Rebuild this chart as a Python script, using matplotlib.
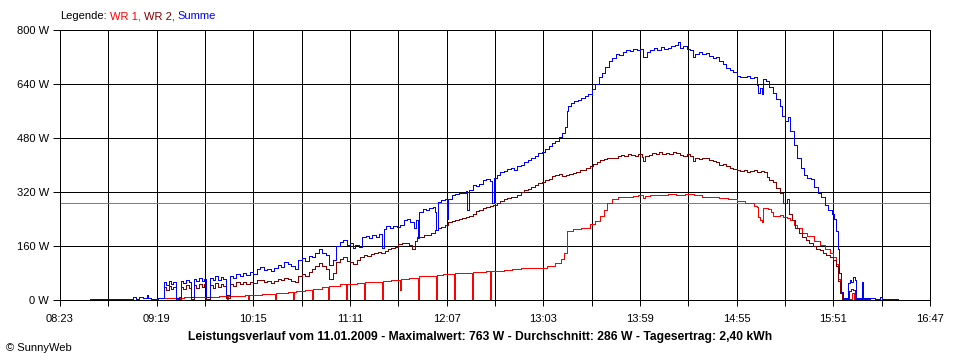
import matplotlib
matplotlib.use("Agg")
import matplotlib.pyplot as plt

plt.rcParams['font.family'] = ['Liberation Sans', 'DejaVu Sans']
plt.rcParams['font.size'] = 8

# axis labels / summary
tick_labels = ["08:23", "09:19", "10:15", "11:11", "12:07", "13:03", "13:59", "14:55", "15:51", "16:47"]
y_ticks = [0, 160, 320, 480, 640, 800]
avg_w = 286
title = "Leistungsverlauf vom 11.01.2009 - Maximalwert: 763 W - Durchschnitt: 286 W - Tagesertrag: 2,40 kWh"
legend_parts = ["Legende:", "WR 1,", "WR 2,", "Summe"]
legend_colors = ["black", "#ff0000", "#800000", "#0000ff"]

# Summe (minutes since midnight, watts)
summe_t = [520.4, 530, 540, 545, 547, 549, 551, 553.4, 554, 556,
           560, 563.2, 564.5, 566, 567.5, 568.5, 570, 572, 573.1, 574.5,
           576, 577.5, 579, 580.6, 582, 583.5, 585, 586.5, 587.5, 589.9,
           591.5, 593, 594.5, 596, 597.5, 599.2, 601.5, 603, 605, 607,
           609, 611, 613, 615, 617, 619, 621, 623, 625, 627,
           629, 631, 633, 635, 637, 639, 641, 643, 645, 647,
           649, 651, 653, 655, 657, 659, 661, 663, 665, 667,
           669, 671, 672.5, 674, 676, 678, 680, 682, 684, 686,
           688, 689.5, 690.5, 692, 694, 696, 698, 700, 702, 704,
           706, 708, 709.5, 710.3, 711, 713, 715, 717, 719, 720.5,
           721, 722, 724, 726, 727, 728, 730, 732, 734, 736,
           738, 739, 740, 742, 744, 746, 748, 750, 752, 753.5,
           754.5, 756, 758, 760, 762, 764, 766, 768, 770, 772,
           774, 776, 778, 780, 782, 784, 786, 788, 790, 792,
           794, 795.5, 796.5, 797.5, 799, 801, 803, 805, 807, 809,
           811, 813, 815, 817, 819, 821, 823, 825, 827, 829,
           831, 833, 835, 837, 839, 841, 843, 845, 847, 849,
           851, 853, 855, 857, 859, 861, 862, 864, 866, 868,
           869.5, 871, 873, 875, 877, 879, 881, 883, 885, 887,
           889, 891, 893, 895, 897, 899, 901, 903, 905, 906.5,
           907.5, 908.5, 909.5, 910.3, 912, 914, 916, 918, 920, 921.5,
           923, 924.5, 926, 928, 930, 932, 934, 936, 938, 940,
           942, 944, 946, 948, 950, 951.5, 952.5, 953.5, 954.5, 955.5,
           956.5, 959, 959.5, 960.5, 961.5, 962.5, 963.5, 964.2, 967.2, 967.6,
           968.2, 975, 978, 979, 988.5]
summe_w = [2, 2, 3, 8, 4, 10, 6, 15, 5, 4,
           5, 52, 45, 55, 48, 53, 6, 8, 56, 50,
           58, 52, 9, 62, 55, 64, 57, 63, 10, 65,
           58, 70, 60, 68, 62, 15, 72, 66, 78, 70,
           80, 74, 84, 78, 92, 99, 88, 92, 86, 96,
           104, 98, 114, 108, 100, 92, 118, 124, 116, 130,
           126, 140, 150, 138, 132, 104, 118, 160, 172, 178,
           162, 168, 155, 164, 158, 186, 190, 184, 192, 188,
           195, 154, 210, 218, 212, 220, 215, 222, 236, 240,
           232, 212, 238, 183, 262, 270, 266, 272, 275, 262,
           207, 290, 296, 300, 240, 298, 310, 314, 318, 316,
           322, 268, 325, 340, 338, 344, 355, 358, 352, 287,
           362, 370, 378, 382, 388, 392, 386, 396, 400, 408,
           414, 420, 426, 436, 440, 448, 456, 464, 472, 484,
           495, 512, 560, 575, 584, 590, 594, 600, 604, 610,
           624, 640, 660, 672, 690, 708, 716, 730, 726, 736,
           740, 738, 744, 742, 744, 720, 734, 742, 748, 740,
           750, 744, 748, 752, 756, 763, 746, 752, 744, 740,
           720, 730, 734, 730, 732, 722, 718, 720, 708, 700,
           688, 682, 676, 664, 662, 660, 664, 658, 662, 636,
           612, 628, 610, 656, 650, 632, 612, 596, 575, 545,
           530, 542, 500, 458, 420, 390, 370, 362, 358, 336,
           318, 304, 282, 268, 254, 240, 205, 150, 80, 25,
           5, 4, 50, 58, 52, 68, 60, 5, 4, 52,
           5, 3, 8, 4, 3]

# WR 2
wr2_t = [563.2, 564.5, 566, 567.5, 568.5, 570, 573.1, 574.5, 576, 577.5,
         579, 580.6, 582, 583.5, 585, 586.5, 587.5, 589.9, 591.5, 593,
         594.5, 596, 597.5, 599.2, 601.5, 603, 605, 607, 609, 611,
         613, 615, 617, 619, 621, 623, 625, 627, 629, 631,
         633, 635, 637, 639, 641, 643, 645, 647, 649, 651,
         653, 655, 657, 659, 661, 663, 665, 667, 669, 671,
         673, 675, 677, 679, 681, 683, 685, 687, 689, 691,
         693, 695, 697, 699, 701, 703, 705, 707, 708.5, 710,
         712, 714, 716, 718, 720, 722, 724, 726, 728, 730,
         732, 734, 736, 738, 740, 742, 744, 746, 748, 750,
         752, 754, 756, 758, 760, 762, 764, 766, 768, 770,
         772, 774, 776, 778, 780, 782, 784, 786, 788, 790,
         792, 794, 796, 798, 800, 802, 804, 806, 808, 810,
         812, 814, 816, 818, 820, 822, 824, 826, 828, 830,
         832, 834, 836, 838, 840, 841, 842, 844, 846, 848,
         850, 852, 854, 856, 858, 860, 862, 864, 866, 868,
         869.5, 871, 873, 875, 877, 879, 881, 883, 885, 887,
         889, 891, 893, 895, 897, 899, 901, 903, 905, 907,
         909, 911, 912.5, 914, 916, 918, 920, 922, 924, 925.5,
         927, 929, 931, 933, 935, 937, 939, 941, 943, 945,
         947, 949, 951, 952.5, 953.7, 955, 956, 959.5, 960, 961,
         962.5, 963.6, 972]
wr2_w = [38, 30, 42, 34, 40, 2, 40, 33, 44, 36,
         3, 44, 36, 48, 38, 46, 4, 44, 36, 50,
         40, 48, 42, 6, 48, 42, 52, 46, 54, 48,
         52, 50, 58, 60, 52, 55, 50, 56, 62, 58,
         66, 62, 56, 52, 70, 76, 72, 84, 92, 100,
         110, 100, 92, 62, 80, 112, 122, 126, 116, 112,
         106, 118, 126, 132, 130, 136, 138, 142, 140, 146,
         150, 154, 158, 166, 170, 168, 164, 152, 174, 186,
         188, 192, 194, 198, 206, 212, 216, 222, 230, 234,
         236, 240, 242, 246, 250, 254, 264, 268, 272, 276,
         278, 282, 288, 294, 298, 302, 304, 306, 310, 320,
         326, 330, 334, 340, 346, 350, 356, 360, 366, 370,
         372, 368, 370, 372, 376, 380, 384, 386, 392, 396,
         402, 410, 414, 418, 420, 422, 420, 426, 430, 428,
         432, 430, 428, 434, 424, 412, 426, 430, 436, 432,
         440, 434, 436, 432, 440, 436, 430, 428, 432, 426,
         412, 420, 418, 422, 420, 416, 412, 408, 400, 402,
         396, 390, 388, 384, 382, 384, 380, 382, 384, 380,
         382, 378, 364, 356, 350, 332, 318, 288, 300, 254,
         236, 214, 200, 186, 178, 168, 160, 152, 148, 140,
         132, 126, 118, 100, 55, 20, 2, 2, 28, 34,
         30, 2, 1]

# WR 1
wr1_t = [563.2, 570, 575, 580, 585, 590, 595, 599.7, 600.1, 605,
         610, 611.9, 612.3, 615, 620, 625, 627.5, 627.9, 630, 635,
         638, 638.4, 640, 645, 649, 649.4, 650, 655, 658.3, 658.7,
         660, 665, 668.7, 669.1, 670, 675, 679.1, 679.5, 685, 689.5,
         689.9, 695, 700, 700.4, 705, 710.4, 710.8, 715, 720.8, 721.2,
         725, 731.2, 731.6, 735, 740, 741.7, 742.1, 745, 750, 752.1,
         752.5, 755, 760, 765, 770, 775, 780, 785, 790, 793,
         795, 796.5, 800, 805, 810, 813, 816, 818, 820, 823,
         826, 830, 835, 838, 840.7, 842, 845, 850, 855, 860,
         865, 870, 875, 880, 885, 890, 895, 900, 905, 907,
         907.5, 908.5, 909.5, 910.3, 913, 915, 916, 918, 920, 922,
         924, 926, 928, 930, 933, 936, 940, 943, 946, 949,
         951, 952.5, 953.7, 955, 956, 960, 962, 963, 969, 970]
wr1_w = [6, 7, 8, 8, 10, 10, 11, 0, 12, 13,
         14, 1, 15, 16, 17, 19, 2, 20, 22, 24,
         0, 25, 26, 30, 0, 32, 34, 38, 0, 41,
         42, 46, 4, 48, 48, 50, 0, 52, 53, 0,
         56, 59, 30, 62, 66, 0, 70, 72, 0, 74,
         77, 0, 79, 80, 81, 0, 82, 83, 85, 0,
         86, 87, 90, 92, 94, 95, 96, 102, 110, 122,
         138, 205, 210, 214, 225, 234, 250, 268, 288, 298,
         304, 306, 308, 311, 302, 308, 310, 312, 314, 312,
         314, 310, 306, 304, 302, 300, 292, 286, 278, 275,
         246, 236, 232, 272, 270, 262, 248, 250, 252, 246,
         242, 236, 222, 212, 200, 190, 176, 164, 150, 138,
         126, 108, 62, 24, 2, 3, 22, 3, 2, 0]


def to_min(s):
    h, m = s.split(":")
    return int(h) * 60 + int(m)


fig = plt.figure(figsize=(9.6, 3.6), dpi=100)
ax = fig.add_axes([60 / 960, 60 / 360, 870 / 960, 270 / 360])

major = [to_min(s) for s in tick_labels]
minor = [m + 28 for m in major[:-1]]
ax.set_xlim(major[0], major[-1])
ax.set_ylim(0, 800)
ax.set_xticks(major)
ax.set_xticklabels(tick_labels)
ax.set_xticks(minor, minor=True)
ax.set_yticks(y_ticks)
ax.set_yticklabels([f"{v} W" for v in y_ticks])
ax.grid(which='both', color='black', lw=0.7, antialiased=False)
ax.set_axisbelow(True)

ax.axhline(avg_w, color='#808080', lw=0.7, antialiased=False, zorder=1.5)
ax.plot(wr1_t, wr1_w, drawstyle='steps-post', color='#ff0000', lw=0.7, antialiased=False)
ax.plot(wr2_t, wr2_w, drawstyle='steps-post', color='#800000', lw=0.7, antialiased=False)
ax.plot(summe_t, summe_w, drawstyle='steps-post', color='#0000ff', lw=0.7, antialiased=False)

for s in ax.spines.values():
    s.set_linewidth(0.7)
    s.set_antialiased(False)
ax.tick_params(axis='x', which='both', length=4, width=0.7, pad=6)
ax.tick_params(axis='y', length=5, width=0.7, pad=3)

fig.text(0.5, 0.064, title, ha='center', va='center', fontweight='bold', fontsize=8.7)
fig.text(6 / 960, 0.033, "\u00a9 SunnyWeb", ha='left', va='center', fontsize=8)

# multi-coloured legend line
renderer = fig.canvas.get_renderer()
x = 60 / 960
for txt, col in zip(legend_parts, legend_colors):
    t = fig.text(x, 0.955, txt, color=col, ha='left', va='center', fontsize=8)
    bb = t.get_window_extent(renderer)
    x = bb.x1 / 960 + 3 / 960

fig.savefig("out.png", dpi=100)
